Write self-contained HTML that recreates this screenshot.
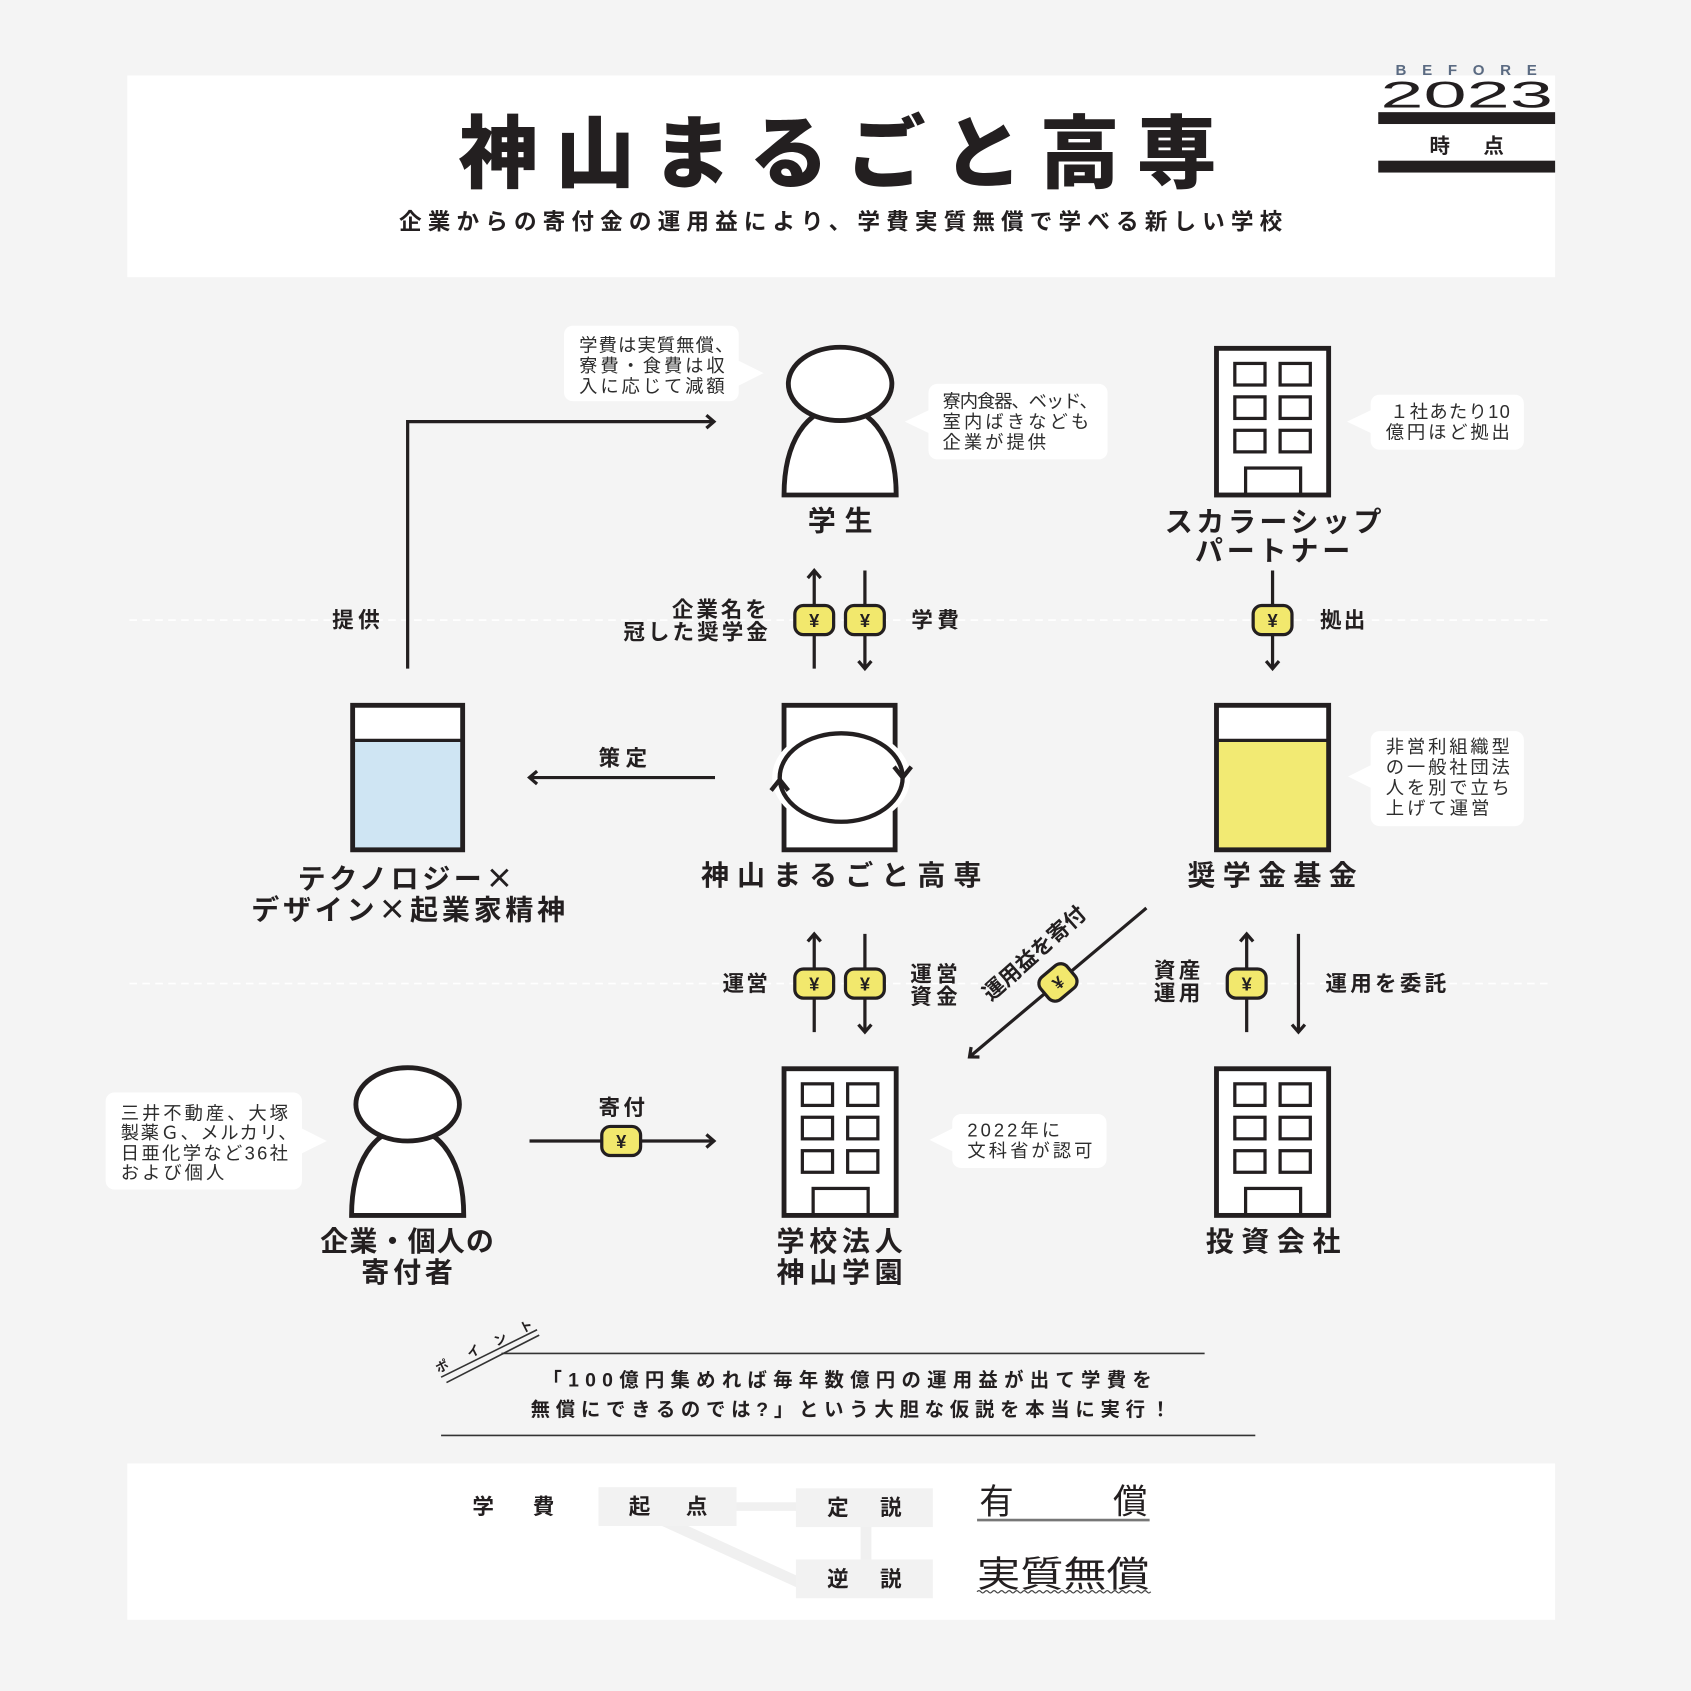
<!DOCTYPE html>
<html lang="ja"><head><meta charset="utf-8"><title>神山まるごと高専</title>
<style>
html,body{margin:0;padding:0;background:#f4f4f4;width:1691px;height:1691px;overflow:hidden}
svg{display:block}
text{font-family:"Liberation Sans","Noto Sans CJK JP",sans-serif;fill:#231f20;dominant-baseline:central}
.b{font-weight:700}
.c{font-size:17px;fill:#2d2d2d;font-weight:400}
.l{font-size:20px;font-weight:700}
.n{font-size:26px;font-weight:700}
.j{font-family:"Noto Sans CJK JP",sans-serif}
.k{stroke:#231f20;fill:none;stroke-width:3}
.o{stroke:#231f20;stroke-width:4.5}
.w{stroke:#231f20;stroke-width:3;fill:none}
</style></head><body>
<svg width="1691" height="1691" viewBox="0 0 1568 1568" xmlns="http://www.w3.org/2000/svg">
<defs>
<marker id="ah" markerUnits="userSpaceOnUse" markerWidth="16" markerHeight="16" viewBox="0 0 16 16" refX="13" refY="8" orient="auto">
<path d="M6,2 L13,8 L6,14" fill="none" stroke="#231f20" stroke-width="3"/>
</marker>
</defs>
<rect width="1568" height="1568" fill="#f4f4f4"/>

<!-- header box -->
<rect x="118" y="70" width="1324" height="187" fill="#fff"/>
<text x="425" y="143" font-size="74" font-weight="900" textLength="703" lengthAdjust="spacing">神山まるごと高専</text>
<text x="370" y="206" font-size="21" class="b" textLength="819" lengthAdjust="spacing">企業からの寄付金の運用益により、学費実質無償で学べる新しい学校</text>

<!-- BEFORE 2023 -->
<text x="1294" y="65.5" font-size="14" class="b" style="fill:#5b6b82" textLength="131" lengthAdjust="spacing">BEFORE</text>
<text x="1280" y="88" font-size="34" textLength="160" lengthAdjust="spacingAndGlyphs">2023</text>
<rect x="1278" y="104" width="164" height="11" fill="#231f20"/>
<text x="1335" y="136" font-size="19" class="b" text-anchor="middle">時</text>
<text x="1385" y="136" font-size="19" class="b" text-anchor="middle">点</text>
<rect x="1278" y="149" width="164" height="11" fill="#231f20"/>

<!-- dashed guides -->
<line x1="120" y1="575" x2="1440" y2="575" stroke="#ffffff" stroke-width="1.5" stroke-dasharray="7 5"/>
<line x1="120" y1="912" x2="1440" y2="912" stroke="#ffffff" stroke-width="1.5" stroke-dasharray="7 5"/>

<!-- ===== Student ===== -->
<path d="M727,459 C727,410 748,378 779,378 C810,378 831,410 831,459 Z" fill="#fff" class="o"/>
<ellipse cx="779" cy="356" rx="48" ry="34" fill="#fff" class="o"/>
<text x="749" y="483" class="n" textLength="60" lengthAdjust="spacing">学生</text>

<!-- student left callout -->
<rect x="523" y="302" width="162" height="70" rx="8" fill="#fff"/>
<polygon points="684,334 708,346 684,358" fill="#fff"/>
<text x="537" y="320" class="c" textLength="143" lengthAdjust="spacing">学費は実質無償、</text>
<text x="537" y="339" class="c" textLength="135" lengthAdjust="spacing">寮費・食費は収</text>
<text x="537" y="358" class="c" textLength="135" lengthAdjust="spacing">入に応じて減額</text>

<!-- student right callout -->
<rect x="861" y="356" width="166" height="70" rx="8" fill="#fff"/>
<polygon points="862,380 839,391 862,402" fill="#fff"/>
<text x="874" y="372" class="c" textLength="144" lengthAdjust="spacing">寮内食器、ベッド、</text>
<text x="874" y="391" class="c" textLength="136" lengthAdjust="spacing">室内ばきなども</text>
<text x="874" y="410" class="c" textLength="96" lengthAdjust="spacing">企業が提供</text>

<!-- ===== Scholarship partner building ===== -->
<g>
<rect x="1128" y="323" width="104" height="136" fill="#fff" class="o"/>
<rect x="1145" y="337" width="28" height="20" class="w"/>
<rect x="1187" y="337" width="28" height="20" class="w"/>
<rect x="1145" y="368" width="28" height="20" class="w"/>
<rect x="1187" y="368" width="28" height="20" class="w"/>
<rect x="1145" y="399" width="28" height="20" class="w"/>
<rect x="1187" y="399" width="28" height="20" class="w"/>
<rect x="1155" y="434" width="51" height="25" class="w"/>
</g>
<text x="1080" y="484" class="n" textLength="201" lengthAdjust="spacing">スカラーシップ</text>
<text x="1108" y="511" class="n" textLength="144" lengthAdjust="spacing">パートナー</text>

<rect x="1271" y="366" width="142" height="51" rx="8" fill="#fff"/>
<polygon points="1272,380 1249,391 1272,402" fill="#fff"/>
<text x="1289" y="381.5" class="c" textLength="111" lengthAdjust="spacing">１社あたり10</text>
<text x="1285" y="400.5" class="c" textLength="115" lengthAdjust="spacing">億円ほど拠出</text>

<!-- ===== Arrow: tech -> student ===== -->
<path d="M378,620 L378,391 L662,391" class="k" marker-end="url(#ah)"/>
<text x="308" y="575" class="l" textLength="44" lengthAdjust="spacing">提供</text>

<!-- student <-> kosen arrows -->
<line x1="755" y1="620" x2="755" y2="529" class="k" marker-end="url(#ah)"/>
<line x1="802" y1="529" x2="802" y2="620" class="k" marker-end="url(#ah)"/>
<g transform="translate(755,575)"><rect x="-18" y="-13.5" width="36" height="27" rx="8" fill="#f2e86d" stroke="#231f20" stroke-width="3"/><text x="0" y="0.5" text-anchor="middle" font-size="17" class="b">¥</text></g>
<g transform="translate(802,575)"><rect x="-18" y="-13.5" width="36" height="27" rx="8" fill="#f2e86d" stroke="#231f20" stroke-width="3"/><text x="0" y="0.5" text-anchor="middle" font-size="17" class="b">¥</text></g>
<text x="623" y="565" class="l" textLength="88" lengthAdjust="spacing">企業名を</text>
<text x="578" y="586" class="l" textLength="134" lengthAdjust="spacing">冠した奨学金</text>
<text x="845" y="575" class="l" textLength="44" lengthAdjust="spacing">学費</text>

<!-- partner -> fund -->
<line x1="1180" y1="529" x2="1180" y2="620" class="k" marker-end="url(#ah)"/>
<g transform="translate(1180,575)"><rect x="-18" y="-13.5" width="36" height="27" rx="8" fill="#f2e86d" stroke="#231f20" stroke-width="3"/><text x="0" y="0.5" text-anchor="middle" font-size="17" class="b">¥</text></g>
<text x="1224" y="575" class="l" textLength="42" lengthAdjust="spacing">拠出</text>

<!-- ===== Tech box ===== -->
<rect x="327" y="654" width="102" height="134" fill="#cfe5f3"/>
<rect x="327" y="654" width="102" height="32" fill="#fff"/>
<line x1="327" y1="686.5" x2="429" y2="686.5" stroke="#231f20" stroke-width="3"/>
<rect x="327" y="654" width="102" height="134" fill="none" class="o"/>
<text x="276" y="813" class="n j" textLength="200" lengthAdjust="spacing">テクノロジー×</text>
<text x="233" y="842" class="n j" textLength="291" lengthAdjust="spacing">デザイン×起業家精神</text>

<!-- 策定 arrow -->
<line x1="663" y1="721" x2="491" y2="721" class="k" marker-end="url(#ah)"/>
<text x="555" y="703" class="l" textLength="45" lengthAdjust="spacing">策定</text>

<!-- ===== Kosen box ===== -->
<rect x="727" y="654" width="103" height="134" fill="#fff" class="o"/>
<ellipse cx="780" cy="721" rx="64" ry="47" fill="#fff"/>
<ellipse cx="780" cy="721" rx="57" ry="41" fill="none" stroke="#231f20" stroke-width="4"/>
<polyline points="829,711 837,721 845,711" fill="none" stroke="#231f20" stroke-width="4"/>
<polyline points="715,733 723,723 731,733" fill="none" stroke="#231f20" stroke-width="4"/>
<text x="650" y="812" class="n" textLength="260" lengthAdjust="spacing">神山まるごと高専</text>

<!-- ===== Fund box ===== -->
<rect x="1128" y="654" width="104" height="134" fill="#f2ea73"/>
<rect x="1128" y="654" width="104" height="32" fill="#fff"/>
<line x1="1128" y1="686.5" x2="1232" y2="686.5" stroke="#231f20" stroke-width="3"/>
<rect x="1128" y="654" width="104" height="134" fill="none" class="o"/>
<text x="1101" y="812" class="n" textLength="157" lengthAdjust="spacing">奨学金基金</text>

<rect x="1271" y="678" width="142" height="88" rx="8" fill="#fff"/>
<polygon points="1272,709 1250,720 1272,731" fill="#fff"/>
<text x="1285" y="692" class="c" textLength="115" lengthAdjust="spacing">非営利組織型</text>
<text x="1285" y="711" class="c" textLength="115" lengthAdjust="spacing">の一般社団法</text>
<text x="1285" y="730" class="c" textLength="115" lengthAdjust="spacing">人を別で立ち</text>
<text x="1285" y="749" class="c" textLength="96" lengthAdjust="spacing">上げて運営</text>

<!-- ===== lower arrows ===== -->
<line x1="755" y1="957" x2="755" y2="866" class="k" marker-end="url(#ah)"/>
<line x1="802" y1="866" x2="802" y2="957" class="k" marker-end="url(#ah)"/>
<g transform="translate(755,912)"><rect x="-18" y="-13.5" width="36" height="27" rx="8" fill="#f2e86d" stroke="#231f20" stroke-width="3"/><text x="0" y="0.5" text-anchor="middle" font-size="17" class="b">¥</text></g>
<g transform="translate(802,912)"><rect x="-18" y="-13.5" width="36" height="27" rx="8" fill="#f2e86d" stroke="#231f20" stroke-width="3"/><text x="0" y="0.5" text-anchor="middle" font-size="17" class="b">¥</text></g>
<text x="670" y="912" class="l" textLength="42" lengthAdjust="spacing">運営</text>
<text x="844" y="903" class="l" textLength="44" lengthAdjust="spacing">運営</text>
<text x="844" y="924" class="l" textLength="44" lengthAdjust="spacing">資金</text>

<!-- diagonal -->
<line x1="1063" y1="842" x2="899" y2="980" class="k" marker-end="url(#ah)"/>
<g transform="translate(981,911) rotate(-40)"><rect x="-16" y="-13.5" width="32" height="27" rx="8" fill="#f2e86d" stroke="#231f20" stroke-width="3"/><text x="0" y="0.5" text-anchor="middle" font-size="16" class="b">¥</text></g>
<text x="899" y="884" class="l" font-size="19" textLength="120" lengthAdjust="spacing" transform="rotate(-41.6 959 884)">運用益を寄付</text>

<line x1="1156" y1="957" x2="1156" y2="866" class="k" marker-end="url(#ah)"/>
<line x1="1204" y1="866" x2="1204" y2="957" class="k" marker-end="url(#ah)"/>
<g transform="translate(1156,912)"><rect x="-18" y="-13.5" width="36" height="27" rx="8" fill="#f2e86d" stroke="#231f20" stroke-width="3"/><text x="0" y="0.5" text-anchor="middle" font-size="17" class="b">¥</text></g>
<text x="1070" y="900" class="l" textLength="43" lengthAdjust="spacing">資産</text>
<text x="1070" y="921" class="l" textLength="43" lengthAdjust="spacing">運用</text>
<text x="1229" y="912" class="l" textLength="112" lengthAdjust="spacing">運用を委託</text>

<!-- ===== Donor ===== -->
<g transform="translate(-401,668)">
<path d="M727,459 C727,410 748,378 779,378 C810,378 831,410 831,459 Z" fill="#fff" class="o"/>
<ellipse cx="779" cy="356" rx="48" ry="34" fill="#fff" class="o"/>
</g>
<text x="297" y="1151" class="n" textLength="161" lengthAdjust="spacing">企業・個人の</text>
<text x="335" y="1180" class="n" textLength="85" lengthAdjust="spacing">寄付者</text>

<rect x="98" y="1013" width="182" height="90" rx="8" fill="#fff"/>
<polygon points="279,1046 303,1058 279,1070" fill="#fff"/>
<text x="112" y="1032" class="c" textLength="155" lengthAdjust="spacing">三井不動産、大塚</text>
<text x="112" y="1050" class="c" textLength="163" lengthAdjust="spacing">製薬Ｇ、メルカリ、</text>
<text x="112" y="1069" class="c" textLength="155" lengthAdjust="spacing">日亜化学など36社</text>
<text x="112" y="1087" class="c" textLength="96" lengthAdjust="spacing">および個人</text>

<!-- donation arrow -->
<line x1="491" y1="1058" x2="662" y2="1058" class="k" marker-end="url(#ah)"/>
<g transform="translate(576,1058)"><rect x="-18" y="-13.5" width="36" height="27" rx="8" fill="#f2e86d" stroke="#231f20" stroke-width="3"/><text x="0" y="0.5" text-anchor="middle" font-size="17" class="b">¥</text></g>
<text x="555" y="1027" class="l" textLength="43" lengthAdjust="spacing">寄付</text>

<!-- ===== School building ===== -->
<g transform="translate(-401,668)">
<rect x="1128" y="323" width="104" height="136" fill="#fff" class="o"/>
<rect x="1145" y="337" width="28" height="20" class="w"/>
<rect x="1187" y="337" width="28" height="20" class="w"/>
<rect x="1145" y="368" width="28" height="20" class="w"/>
<rect x="1187" y="368" width="28" height="20" class="w"/>
<rect x="1145" y="399" width="28" height="20" class="w"/>
<rect x="1187" y="399" width="28" height="20" class="w"/>
<rect x="1155" y="434" width="51" height="25" class="w"/>
</g>
<text x="720" y="1151" class="n" textLength="117" lengthAdjust="spacing">学校法人</text>
<text x="720" y="1180" class="n" textLength="117" lengthAdjust="spacing">神山学園</text>

<rect x="883" y="1033" width="143" height="50" rx="8" fill="#fff"/>
<polygon points="884,1046 862,1057 884,1068" fill="#fff"/>
<text x="897" y="1048" class="c" textLength="86" lengthAdjust="spacing">2022年に</text>
<text x="897" y="1067" class="c" textLength="116" lengthAdjust="spacing">文科省が認可</text>

<!-- ===== Investment building ===== -->
<g transform="translate(0,668)">
<rect x="1128" y="323" width="104" height="136" fill="#fff" class="o"/>
<rect x="1145" y="337" width="28" height="20" class="w"/>
<rect x="1187" y="337" width="28" height="20" class="w"/>
<rect x="1145" y="368" width="28" height="20" class="w"/>
<rect x="1187" y="368" width="28" height="20" class="w"/>
<rect x="1145" y="399" width="28" height="20" class="w"/>
<rect x="1187" y="399" width="28" height="20" class="w"/>
<rect x="1155" y="434" width="51" height="25" class="w"/>
</g>
<text x="1118" y="1151" class="n" textLength="125" lengthAdjust="spacing">投資会社</text>

<!-- ===== Point ===== -->
<line x1="465" y1="1255" x2="1117" y2="1255" stroke="#333" stroke-width="1.5"/>
<line x1="409" y1="1331" x2="1164" y2="1331" stroke="#333" stroke-width="1.5"/>
<line x1="409" y1="1277" x2="498" y2="1233" stroke="#333" stroke-width="1.5"/>
<line x1="414" y1="1282" x2="500" y2="1238" stroke="#333" stroke-width="1.5"/>
<text x="410" y="1267" font-size="12" class="b" text-anchor="middle" transform="rotate(-27 410 1267)">ポ</text>
<text x="439" y="1253" font-size="12" class="b" text-anchor="middle" transform="rotate(-27 439 1253)">イ</text>
<text x="464" y="1242" font-size="12" class="b" text-anchor="middle" transform="rotate(-27 464 1242)">ン</text>
<text x="488" y="1230" font-size="12" class="b" text-anchor="middle" transform="rotate(-27 488 1230)">ト</text>
<text x="503" y="1280" font-size="18" class="b" textLength="565" lengthAdjust="spacing">「100億円集めれば毎年数億円の運用益が出て学費を</text>
<text x="492" y="1307.5" font-size="18" class="b" textLength="593" lengthAdjust="spacing">無償にできるのでは?」という大胆な仮説を本当に実行！</text>

<!-- ===== Bottom box ===== -->
<rect x="118" y="1357" width="1324" height="145" fill="#fff"/>
<rect x="680" y="1393" width="62" height="8" fill="#f0f0f0"/>
<rect x="798" y="1414" width="10" height="34" fill="#f0f0f0"/>
<line x1="615" y1="1410" x2="742" y2="1468" stroke="#f0f0f0" stroke-width="10"/>
<rect x="555" y="1379" width="128" height="36" fill="#f2f2f2"/>
<rect x="738" y="1380" width="127" height="36" fill="#f2f2f2"/>
<rect x="738" y="1446" width="127" height="36" fill="#f2f2f2"/>
<text x="448" y="1397" font-size="20" class="b" text-anchor="middle">学</text>
<text x="504" y="1397" font-size="20" class="b" text-anchor="middle">費</text>
<text x="593" y="1397" font-size="20" class="b" text-anchor="middle">起</text>
<text x="646" y="1397" font-size="20" class="b" text-anchor="middle">点</text>
<text x="777" y="1398" font-size="20" class="b" text-anchor="middle">定</text>
<text x="826" y="1398" font-size="20" class="b" text-anchor="middle">説</text>
<text x="777" y="1464" font-size="20" class="b" text-anchor="middle">逆</text>
<text x="826" y="1464" font-size="20" class="b" text-anchor="middle">説</text>
<text x="924" y="1393" font-size="32" text-anchor="middle">有</text>
<text x="1048" y="1393" font-size="32" text-anchor="middle">償</text>
<line x1="906" y1="1409.5" x2="1066" y2="1409.5" stroke="#777" stroke-width="2.5"/>
<text x="906" y="1460" font-size="33" textLength="160" lengthAdjust="spacingAndGlyphs">実質無償</text>
<path d="M906 1476 q1.75 -2.2 3.5 0 t3.5 0 t3.5 0 t3.5 0 t3.5 0 t3.5 0 t3.5 0 t3.5 0 t3.5 0 t3.5 0 t3.5 0 t3.5 0 t3.5 0 t3.5 0 t3.5 0 t3.5 0 t3.5 0 t3.5 0 t3.5 0 t3.5 0 t3.5 0 t3.5 0 t3.5 0 t3.5 0 t3.5 0 t3.5 0 t3.5 0 t3.5 0 t3.5 0 t3.5 0 t3.5 0 t3.5 0 t3.5 0 t3.5 0 t3.5 0 t3.5 0 t3.5 0 t3.5 0 t3.5 0 t3.5 0 t3.5 0 t3.5 0 t3.5 0 t3.5 0 t3.5 0 t3.5 0" fill="none" stroke="#444" stroke-width="1.2"/>
</svg>
</body></html>
